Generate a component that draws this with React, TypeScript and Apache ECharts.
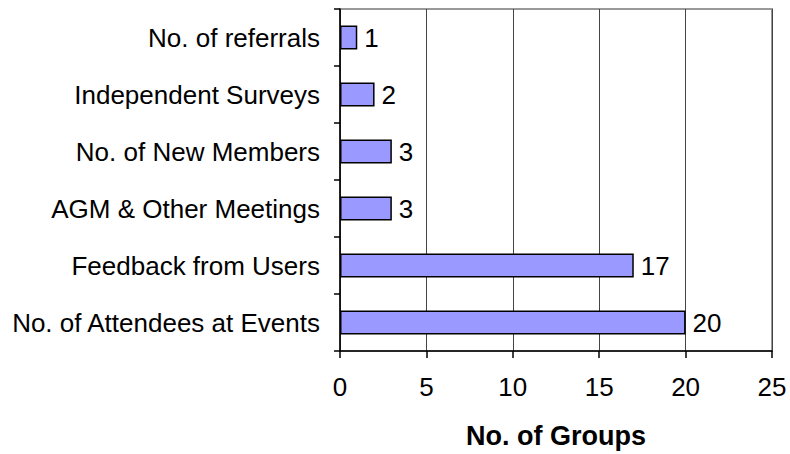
import React, { useEffect, useRef } from "react";
import * as echarts from "echarts";

const categories = [
  "No. of referrals",
  "Independent Surveys",
  "No. of New Members",
  "AGM & Other Meetings",
  "Feedback from Users",
  "No. of Attendees at Events",
];
const values = [1, 2, 3, 3, 17, 20];
const axisName = "No. of Groups";

const FONT = "'Liberation Sans', Arial, sans-serif";
const FS = 26;

export default function App() {
  const ref = useRef<HTMLDivElement>(null);
  useEffect(() => {
    if (!ref.current) return;
    const chart = echarts.init(ref.current, undefined, { renderer: "svg" });
    chart.setOption({
      animation: false,
      backgroundColor: "#ffffff",
      textStyle: { fontFamily: FONT },
      grid: {
        left: 340,
        top: 9,
        right: 18,
        bottom: 102,
        show: true,
        borderColor: "#999",
        borderWidth: 2,
        backgroundColor: "transparent",
      },
      xAxis: {
        type: "value",
        min: 0,
        max: 25,
        interval: 5,
        name: axisName,
        nameLocation: "middle",
        nameGap: 71,
        nameTextStyle: { fontFamily: FONT, fontSize: 27, fontWeight: "bold", color: "#000" },
        axisLine: { show: true, lineStyle: { color: "#000", width: 1.5 } },
        axisTick: { show: true, length: 7, lineStyle: { color: "#000", width: 1.5 } },
        axisLabel: { fontFamily: FONT, fontSize: FS, color: "#000", margin: 23 },
        splitLine: { show: true, lineStyle: { color: "#444", width: 1 } },
      },
      yAxis: {
        type: "category",
        data: categories,
        inverse: true,
        axisLine: { show: true, lineStyle: { color: "#000", width: 1.5 } },
        axisTick: { show: true, length: 6, lineStyle: { color: "#000", width: 1.5 } },
        axisLabel: { fontFamily: FONT, fontSize: FS, color: "#000", margin: 20 },
        splitLine: { show: false },
      },
      series: [
        {
          type: "bar",
          data: values,
          barWidth: 24,
          itemStyle: { color: "#9999FF", borderColor: "#000", borderWidth: 1.5 },
          label: {
            show: true,
            position: "right",
            distance: 7,
            fontFamily: FONT,
            fontSize: FS,
            color: "#000",
          },
        },
      ],
    });
    return () => chart.dispose();
  }, []);
  return <div ref={ref} style={{ width: 790, height: 454, position: "absolute", left: 0, top: 0 }} />;
}
